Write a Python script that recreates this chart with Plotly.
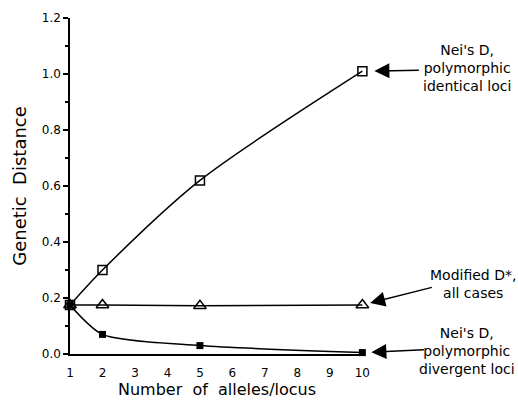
import plotly.graph_objects as go

alleles = [1, 2, 5, 10]
nei_identical = [0.175, 0.30, 0.62, 1.01]
modified_dstar = [0.175, 0.175, 0.172, 0.175]
nei_divergent = [0.175, 0.07, 0.03, 0.005]

x_ticks = list(range(1, 11))
y_ticks = [0.0, 0.2, 0.4, 0.6, 0.8, 1.0, 1.2]
y_tick_labels = ["0.0", "0.2", "0.4", "0.6", "0.8", "1.0", "1.2"]

label_identical = "Nei's D,<br>polymorphic<br>identical loci"
label_modified = "Modified D*,<br>all cases"
label_divergent = "Nei's D,<br>polymorphic<br>divergent loci"

FONT = "DejaVu Sans, Liberation Sans, Arial, sans-serif"

fig = go.Figure()
fig.add_trace(go.Scatter(
    x=alleles, y=nei_identical, mode="lines+markers",
    line=dict(color="black", width=1.5, shape="spline", smoothing=0.8),
    marker=dict(symbol="square-open", size=9, color="black", line=dict(width=1.5)),
    cliponaxis=False, showlegend=False))
fig.add_trace(go.Scatter(
    x=alleles, y=modified_dstar, mode="lines+markers",
    line=dict(color="black", width=1.5),
    marker=dict(symbol="triangle-up-open", size=11, color="black", line=dict(width=1.5)),
    cliponaxis=False, showlegend=False))
fig.add_trace(go.Scatter(
    x=alleles, y=nei_divergent, mode="lines+markers",
    line=dict(color="black", width=1.5, shape="spline", smoothing=0.7),
    marker=dict(symbol="square", size=7, color="black"),
    cliponaxis=False, showlegend=False))

# arrows: (x, y, tail dx, tail dy, standoff)
arrows = [
    (alleles[-1], nei_identical[-1], 58, -1, 12),
    (alleles[-1], modified_dstar[-1], 71, -18, 8),
    (alleles[-1], nei_divergent[-1], 63, -3, 9),
]
for x, y, ax, ay, so in arrows:
    fig.add_annotation(x=x, y=y, xref="x", yref="y", text="", showarrow=True,
                       ax=ax, ay=ay, arrowhead=2, arrowsize=2.0, arrowwidth=1.5,
                       arrowcolor="black", standoff=so)

labels = [(label_identical, 1.350, 0.851), (label_modified, 1.371, 0.207),
          (label_divergent, 1.350, 0.009)]
for txt, px, py in labels:
    fig.add_annotation(x=px, y=py, xref="paper", yref="paper", text=txt,
                       showarrow=False, xanchor="center", yanchor="middle",
                       align="center", font=dict(family=FONT, size=14, color="black"))

fig.update_xaxes(range=[1, 10.05], tickvals=x_ticks, ticks="", showgrid=False,
                 zeroline=False, showline=True, linecolor="black", linewidth=1.5,
                 ticklabelstandoff=7, automargin=False,
                 tickfont=dict(family=FONT, size=12, color="black"),
                 title=dict(text="Number  of  alleles/locus", font=dict(family=FONT, size=16, color="black"),
                            standoff=3))
fig.update_yaxes(range=[0, 1.2], tickvals=y_ticks, ticktext=y_tick_labels, ticks="outside",
                 ticklen=5, tickwidth=1.5, tickcolor="black", automargin=False,
                 minor=dict(dtick=0.1, ticks="outside", ticklen=3, tickwidth=1.5, tickcolor="black"),
                 showgrid=False, zeroline=False, showline=True, linecolor="black", linewidth=1.5,
                 tickfont=dict(family=FONT, size=12, color="black"),
                 title=dict(text="Genetic  Distance", font=dict(family=FONT, size=18, color="black"),
                            standoff=10))

fig.update_layout(width=518, height=400, margin=dict(l=70, r=154, t=18, b=46),
                  plot_bgcolor="white", paper_bgcolor="white",
                  font=dict(family=FONT, color="black"))

# remove the browser's default page margin so the 518x400 figure fills the window exactly
fig.write_html("out.html", config={"displayModeBar": False},
               post_script="document.body.style.margin='0';document.body.style.overflow='hidden';")
